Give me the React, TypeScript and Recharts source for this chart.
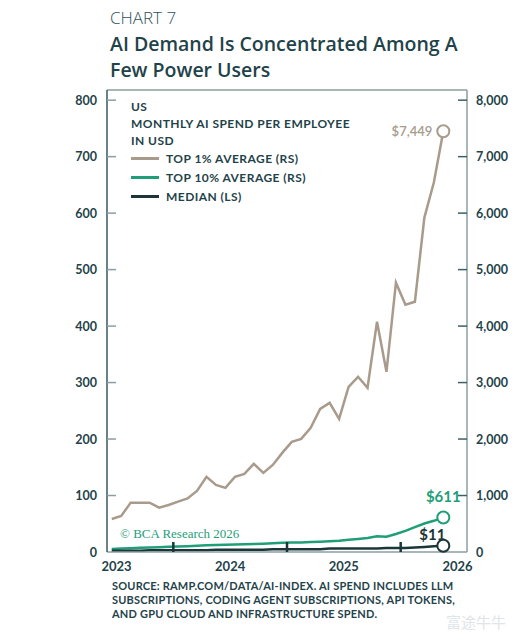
import React from 'react';
import { ComposedChart, Line, XAxis, YAxis, ReferenceDot, ReferenceLine } from 'recharts';

// ---------- data ----------
const months = [
  '2022-12',
  '2023-01', '2023-02', '2023-03', '2023-04', '2023-05', '2023-06',
  '2023-07', '2023-08', '2023-09', '2023-10', '2023-11', '2023-12',
  '2024-01', '2024-02', '2024-03', '2024-04', '2024-05', '2024-06',
  '2024-07', '2024-08', '2024-09', '2024-10', '2024-11', '2024-12',
  '2025-01', '2025-02', '2025-03', '2025-04', '2025-05', '2025-06',
  '2025-07', '2025-08', '2025-09', '2025-10', '2025-11',
];
const top1Avg = [
  585, 638, 874, 874, 874, 785, 833, 892, 948, 1081, 1330, 1188,
  1135, 1330, 1383, 1560, 1400, 1542, 1755, 1950, 2003, 2198, 2535, 2641,
  2358, 2925, 3102, 2907, 4077, 3191, 4769, 4379, 4432, 5921, 6541, 7449,
];
const top10Avg = [
  53, 60, 68, 74, 80, 86, 92, 98, 104, 112, 118, 122,
  128, 132, 136, 142, 148, 155, 163, 166, 170, 176, 182, 190,
  198, 218, 232, 248, 278, 270, 318, 375, 440, 505, 552, 611,
];
const medianSpend = [
  2, 2, 2, 2, 3, 3, 3, 3, 3, 3, 3, 4,
  4, 4, 4, 4, 4, 5, 5, 5, 5, 5, 5, 6,
  6, 6, 6, 6, 6, 7, 7, 7, 8, 9, 10, 11,
];
const yearLabels = ['2023', '2024', '2025', '2026'];
const xTicks = [0, 6, 12, 18, 24, 30, 36];
const leftTicks = [0, 100, 200, 300, 400, 500, 600, 700, 800];
const rightTicks = [0, 1000, 2000, 3000, 4000, 5000, 6000, 7000, 8000];

// ---------- styling ----------
const TEAL = '#1f434a';
const TAUPE = '#a89b8c';
const GREEN = '#1f9e78';
const DARK = '#1b3539';
const FRAME = '#8c9ea1';
const LABEL_FONT = 'Lato, "Open Sans", sans-serif';

const toT = (m: string) => {
  const [y, mo] = m.split('-').map(Number);
  return (y - 2023) * 12 + (mo - 1) + 0.5;
};

const data = months.map((m, i) => ({
  t: toT(m),
  top1: top1Avg[i],
  top10: top10Avg[i],
  median: medianSpend[i],
}));
const last = data[data.length - 1];

const fmt = (v: number) => v.toLocaleString('en-US');

const LeftTick = (props: any) => {
  const { x, y, payload } = props;
  const ax = x + 10;
  return (
    <g>
      {payload.value !== 0 && (
        <line x1={ax} x2={ax + 9} y1={y} y2={y} stroke={FRAME} strokeWidth={1.5} />
      )}
      <text x={x} y={y} dy={4.5} textAnchor="end" fill={TEAL} fontFamily={LABEL_FONT}
        fontWeight={700} fontSize={12.5}>{payload.value}</text>
    </g>
  );
};

const RightTick = (props: any) => {
  const { x, y, payload } = props;
  const ax = x - 9;
  return (
    <g>
      {payload.value !== 0 && (
        <line x1={ax} x2={ax - 9} y1={y} y2={y} stroke="#3d6065" strokeWidth={1.5} />
      )}
      <text x={x} y={y} dy={4.5} textAnchor="start" fill={TEAL} fontFamily={LABEL_FONT}
        fontWeight={700} fontSize={12.5}>{fmt(payload.value)}</text>
    </g>
  );
};

const BottomTick = (props: any) => {
  const { x, y, payload } = props;
  const v = payload.value as number;
  if (v % 12 === 0) {
    return (
      <text x={x} y={y + 19} textAnchor="middle" fill={TEAL} fontFamily={LABEL_FONT}
        fontWeight={700} fontSize={13}>{yearLabels[v / 12]}</text>
    );
  }
  return <line x1={x} x2={x} y1={y} y2={y - 10} stroke={DARK} strokeWidth={2.5} />;
};

const dotLabel = (text: string, color: string, dx: number, dy: number, anchor: string, size: number, weight: number) =>
  (props: any) => {
    const vb = props.viewBox || {};
    const cx = vb.x + (vb.width || 0) / 2;
    const cy = vb.y + (vb.height || 0) / 2;
    return (
      <text x={cx + dx} y={cy + dy} textAnchor={anchor} fill={color} fontFamily={LABEL_FONT}
        fontWeight={weight} fontSize={size}>{text}</text>
    );
  };

const abs = (style: React.CSSProperties): React.CSSProperties => ({ position: 'absolute', margin: 0, ...style });

export default function App() {
  return (
    <div style={{ position: 'absolute', left: 0, top: 0, width: 532, height: 644, background: '#fff', overflow: 'hidden' }}>
      <div style={abs({ left: 110, top: 7, fontFamily: '"Open Sans", sans-serif', fontWeight: 300, fontSize: 17, color: '#2d5259', lineHeight: '22px' })}>
        CHART 7
      </div>
      <div style={abs({ left: 110, top: 31, fontFamily: '"Open Sans", sans-serif', fontWeight: 600, fontSize: 19.5, color: TEAL, lineHeight: '26px' })}>
        AI Demand Is Concentrated Among A<br />Few Power Users
      </div>

      <ComposedChart width={532} height={644} data={data}
        margin={{ top: 90, right: 25, bottom: 62, left: 67 }}>
        <XAxis dataKey="t" type="number" domain={[-1, 37]} ticks={xTicks} interval={0}
          tickSize={0} tickMargin={0} tick={<BottomTick />} height={30}
          axisLine={{ stroke: FRAME, strokeWidth: 1.5 }} tickLine={false} allowDataOverflow />
        <YAxis yAxisId="left" orientation="left" domain={[0, 818]} ticks={leftTicks} interval={0}
          width={40} tickSize={0} tickMargin={10} tick={<LeftTick />} tickLine={false}
          axisLine={{ stroke: '#37595e', strokeWidth: 1.5 }} allowDataOverflow />
        <YAxis yAxisId="right" orientation="right" domain={[0, 8180]} ticks={rightTicks} interval={0}
          width={40} tickSize={0} tickMargin={9} tick={<RightTick />} tickLine={false}
          axisLine={{ stroke: FRAME, strokeWidth: 1.5 }} allowDataOverflow />
        <ReferenceLine yAxisId="left" y={818} stroke={FRAME} strokeWidth={1.5} />

        <Line yAxisId="right" dataKey="top1" stroke={TAUPE} strokeWidth={2.5} dot={false}
          type="linear" isAnimationActive={false} />
        <Line yAxisId="right" dataKey="top10" stroke={GREEN} strokeWidth={2.5} dot={false}
          type="linear" isAnimationActive={false} />
        <Line yAxisId="left" dataKey="median" stroke={DARK} strokeWidth={2.5} dot={false}
          type="linear" isAnimationActive={false} />

        <ReferenceDot yAxisId="right" x={last.t} y={last.top1} r={6} fill="#fff" stroke={TAUPE} strokeWidth={2}
          label={{ content: dotLabel('$' + fmt(last.top1), TAUPE, -11, 5, 'end', 13, 600) }} />
        <ReferenceDot yAxisId="right" x={last.t} y={last.top10} r={6} fill="#fff" stroke={GREEN} strokeWidth={2}
          label={{ content: dotLabel('$' + fmt(last.top10), GREEN, 0, -15, 'middle', 15, 700) }} />
        <ReferenceDot yAxisId="left" x={last.t} y={last.median} r={6} fill="#fff" stroke={DARK} strokeWidth={2}
          label={{ content: dotLabel('$' + fmt(last.median), DARK, -11, -6, 'middle', 15, 700) }} />
      </ComposedChart>

      {/* in-chart legend */}
      <div style={abs({ left: 131, top: 98, fontFamily: LABEL_FONT, fontWeight: 700, fontSize: 12, letterSpacing: 0.45, color: TEAL, lineHeight: '17px' })}>
        US<br />MONTHLY AI SPEND PER EMPLOYEE<br />IN USD
      </div>
      {[
        { label: 'TOP 1% AVERAGE (RS)', color: TAUPE, top: 150 },
        { label: 'TOP 10% AVERAGE (RS)', color: GREEN, top: 169 },
        { label: 'MEDIAN (LS)', color: DARK, top: 188 },
      ].map((it) => (
        <div key={it.label} style={abs({ left: 131, top: it.top, height: 17, display: 'flex', alignItems: 'center' })}>
          <span style={{ display: 'inline-block', width: 28, height: 2.5, background: it.color, marginRight: 7 }} />
          <span style={{ fontFamily: LABEL_FONT, fontWeight: 700, fontSize: 12, letterSpacing: 0.45, color: TEAL }}>{it.label}</span>
        </div>
      ))}

      <div style={abs({ left: 120, top: 525, fontFamily: '"Liberation Serif", "DejaVu Serif", serif', fontSize: 13, color: GREEN, lineHeight: '18px' })}>
        © BCA Research 2026
      </div>

      <div style={abs({ left: 112, top: 579, fontFamily: LABEL_FONT, fontWeight: 700, fontSize: 11, letterSpacing: 0.2, color: TEAL, lineHeight: '14px' })}>
        SOURCE: RAMP.COM/DATA/AI-INDEX. AI SPEND INCLUDES LLM<br />
        SUBSCRIPTIONS, CODING AGENT SUBSCRIPTIONS, API TOKENS,<br />
        AND GPU CLOUD AND INFRASTRUCTURE SPEND.
      </div>

      <div style={abs({ left: 446, top: 612, fontFamily: '"Noto Sans CJK SC", sans-serif', fontSize: 15, color: '#dfe5e8', lineHeight: '20px' })}>
        富途牛牛
      </div>
    </div>
  );
}
